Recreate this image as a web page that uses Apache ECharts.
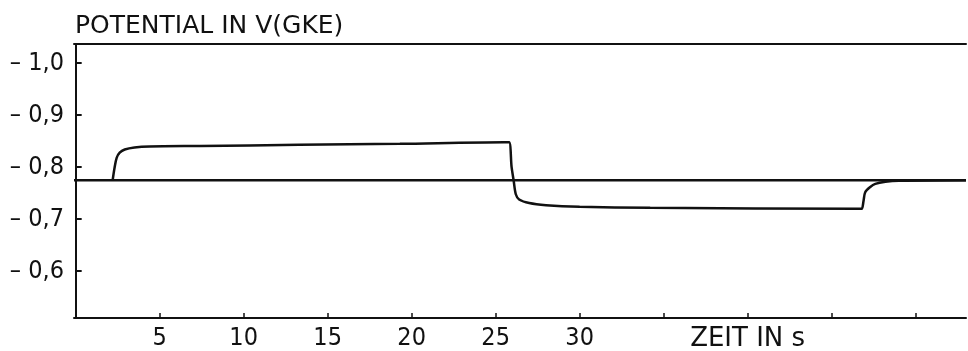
<!DOCTYPE html>
<html>
<head>
<meta charset="utf-8">
<script src="https://cdn.jsdelivr.net/npm/echarts@6/dist/echarts.min.js"></script>
<style>
  html, body { margin: 0; padding: 0; background: #fff; }
  #chart { width: 968px; height: 351px; }
</style>
</head>
<body>
<div id="chart"></div>
<script>
// Zeit in s / Potential in V (GKE)
var zeit = [2.2, 2.32, 2.44, 2.62, 2.92, 3.5, 4.4, 7.4, 13.3, 19.3, 25.5, 25.8,
            25.95, 26.07, 26.2, 26.4, 27.0, 28.0, 30.0, 34.2, 46.7, 46.8, 46.9,
            47.0, 47.3, 47.6, 48.2, 49.0, 53.0];
var potential = [-0.775, -0.80, -0.818, -0.828, -0.834, -0.838, -0.840, -0.841, -0.843, -0.845, -0.848, -0.848,
                 -0.80, -0.775, -0.748, -0.738, -0.731, -0.727, -0.724, -0.722, -0.720, -0.720, -0.735,
                 -0.752, -0.762, -0.768, -0.772, -0.774, -0.775];
var ruhePotential = -0.775;
var xTicks = [5, 10, 15, 20, 25, 30, 35, 40, 45, 50];
var xLabels = [5, 10, 15, 20, 25, 30, 40];   // 40 -> Achsentitel
var yTicks = [-1.0, -0.9, -0.8, -0.7, -0.6];

var kurve = zeit.map(function (t, i) { return [t, potential[i]]; });
var basis = [[-0.1, ruhePotential], [53.0, ruhePotential]];

var myChart = echarts.init(document.getElementById('chart'));

var font = 'DejaVu Sans Condensed';

option = {
    animation: false,
    title: {
        text: 'POTENTIAL IN V(GKE)',
        left: 70,
        top: 9,
        textStyle: { fontFamily: 'DejaVu Sans', fontWeight: 'normal', fontSize: 25, color: '#111' }
    },
    grid: { left: 74, right: 2, top: 44, bottom: 33, outerBoundsMode: 'none' },
    xAxis: [{
        type: 'value',
        min: -0.1,
        max: 53.0,
        splitLine: { show: false },
        axisLine: { lineStyle: { color: '#111', width: 2 } },
        axisTick: { inside: true, length: 5, customValues: xTicks, lineStyle: { color: '#111', width: 1.5 } },
        axisLabel: {
            customValues: xLabels,
            margin: 8,
            fontFamily: font,
            fontSize: 25,
            color: '#111',
            formatter: function (v) { return v === 40 ? '{z|ZEIT IN s}' : String(v); },
            rich: {
                z: { fontFamily: 'DejaVu Sans', fontSize: 26, color: '#111' }
            }
        }
    }, {
        type: 'value',
        position: 'top',
        min: -0.1,
        max: 53.0,
        splitLine: { show: false },
        axisLine: { show: true, lineStyle: { color: '#111', width: 2 } },
        axisTick: { show: false },
        axisLabel: { show: false }
    }],
    yAxis: {
        type: 'value',
        inverse: true,
        min: -1.037,
        max: -0.51,
        splitLine: { show: false },
        axisLine: { show: true, lineStyle: { color: '#111', width: 2 } },
        axisTick: { inside: true, length: 6, customValues: yTicks, lineStyle: { color: '#111', width: 2 } },
        axisLabel: {
            customValues: yTicks,
            margin: 10,
            fontFamily: font,
            fontSize: 25,
            color: '#111',
            formatter: function (v) { return '\u2013 ' + Math.abs(v).toFixed(1).replace('.', ','); }
        }
    },
    series: [{
        type: 'line',
        data: basis,
        showSymbol: false,
        lineStyle: { color: '#111', width: 2.5 }
    }, {
        type: 'line',
        data: kurve,
        smooth: 0.3,
        showSymbol: false,
        lineStyle: { color: '#111', width: 2.5 }
    }]
};

myChart.setOption(option);
</script>
</body>
</html>
